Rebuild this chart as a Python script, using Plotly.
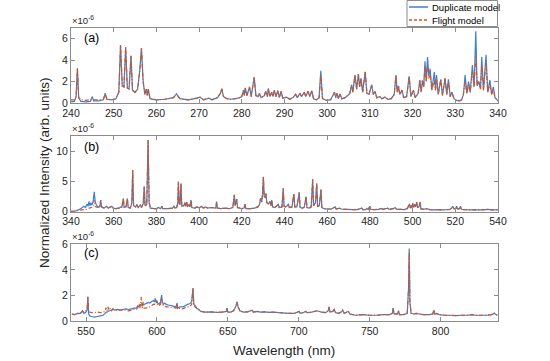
import plotly.graph_objects as go

# ---------------- Panel (a): 240-340 nm (values in 1e-6) ----------------
wl_a = [240.0, 240.8, 241.2, 241.5, 241.8, 242.3, 243.5, 244.5, 245.0, 245.3, 246.5, 247.6, 248.0, 248.4,
        249.5, 250.5, 251.2, 251.6, 252.0, 252.4, 252.8, 253.2, 253.6, 254.05, 254.4, 255.0, 255.6, 256.1,
        256.5, 256.9, 257.3, 257.6, 257.85, 258.1, 258.5, 260.0, 262.0, 264.0, 264.7, 265.5, 267.5, 269.5,
        270.2, 271.0, 272.3, 273.0, 274.3, 275.0, 275.3, 275.7, 276.5, 277.5, 278.5, 279.5, 280.0, 280.4,
        280.6, 280.8, 281.2, 281.8, 282.2, 282.9, 283.3, 283.8, 284.1, 284.5, 285.3, 285.6, 286.0, 286.2,
        286.6, 287.0, 287.3, 287.6, 288.0, 288.4, 288.8, 289.2, 289.6, 290.5, 291.2, 292.0, 292.6, 293.0,
        293.6, 294.0, 294.6, 295.0, 295.5, 295.9, 296.4, 296.8, 297.5, 298.1, 298.5, 298.9, 299.8, 300.8,
        301.7, 302.0, 302.3, 302.6, 303.0, 303.4, 304.2, 304.8, 305.3, 305.7, 306.0, 306.5, 306.9, 307.3,
        307.6, 307.9, 308.3, 308.9, 309.3, 309.8, 310.4, 310.8, 311.2, 311.6, 312.3, 312.8, 313.5, 314.2,
        315.0, 315.7, 316.1, 316.4, 316.7, 317.0, 317.5, 317.9, 318.6, 319.2, 319.6, 320.2, 320.6, 321.3,
        321.7, 322.0, 322.3, 322.6, 322.9, 323.2, 323.5, 323.8, 324.1, 324.5, 325.1, 325.35, 325.6, 326.0,
        326.6, 327.0, 327.6, 328.0, 328.4, 328.8, 329.2, 329.7, 330.3, 331.0, 331.5, 331.9, 332.3, 332.7,
        333.1, 333.5, 334.0, 334.4, 334.8, 335.1, 335.5, 335.9, 336.2, 336.6, 337.2, 337.6, 338.1, 338.5,
        338.9, 339.3, 340.0]
dup_a = [0.10, 0.15, 0.6, 3.25, 0.5, 0.15, 0.10, 0.15, 0.6, 0.2, 0.2, 0.3, 0.9, 0.35,
         0.3, 0.4, 1.0, 5.4, 1.6, 1.5, 5.2, 1.4, 1.3, 4.4, 1.2, 1.0, 1.3, 3.0,
         5.1, 2.0, 0.8, 1.3, 0.7, 1.3, 0.4, 0.3, 0.35, 0.5, 0.85, 0.4, 0.3, 0.45,
         0.55, 0.3, 0.45, 0.3, 0.5, 0.9, 1.35, 0.6, 0.4, 0.35, 0.4, 0.5, 0.6, 1.2,
         0.7, 1.4, 0.7, 1.5, 0.6, 2.4, 0.7, 0.6, 0.9, 0.5, 0.7, 1.1, 0.6, 1.35,
         0.6, 1.0, 0.6, 1.2, 0.6, 1.15, 0.5, 1.1, 0.45, 0.55, 0.35, 0.5, 0.8, 0.5,
         0.9, 0.6, 1.0, 0.6, 1.1, 0.6, 1.15, 0.4, 0.3, 0.5, 3.0, 0.4, 0.25, 0.3,
         1.0, 0.5, 0.9, 0.4, 0.85, 0.4, 0.5, 0.7, 0.9, 1.7, 1.0, 2.6, 1.3, 2.7,
         1.5, 2.3, 1.0, 2.9, 0.9, 0.8, 1.7, 0.8, 1.1, 0.5, 0.6, 0.4, 0.55, 0.35,
         0.4, 0.8, 2.6, 1.0, 1.6, 0.8, 1.2, 0.5, 0.6, 2.5, 0.6, 1.2, 0.5, 0.9,
         2.15, 1.0, 2.1, 1.5, 3.9, 2.0, 4.3, 2.5, 3.2, 1.2, 2.9, 1.2, 2.6, 0.8,
         2.2, 0.7, 2.3, 0.8, 2.2, 0.6, 1.0, 0.4, 0.25, 0.2, 0.3, 0.8, 2.6, 0.9,
         2.0, 1.0, 3.55, 1.5, 6.7, 1.6, 2.0, 1.3, 4.3, 1.2, 4.5, 1.0, 2.15, 0.8,
         1.5, 0.5, 0.2]
flt_a = [0.30, 0.30, 0.6, 3.25, 0.5, 0.3, 0.25, 0.3, 0.3, 0.3, 0.3, 0.35, 0.9, 0.35,
         0.3, 0.4, 1.0, 5.4, 1.6, 1.5, 5.2, 1.4, 1.3, 4.4, 1.2, 1.0, 1.3, 3.0,
         5.1, 2.0, 0.8, 1.3, 0.7, 1.3, 0.4, 0.3, 0.35, 0.5, 0.85, 0.4, 0.3, 0.45,
         0.55, 0.3, 0.45, 0.3, 0.5, 0.9, 1.35, 0.6, 0.4, 0.35, 0.4, 0.5, 0.6, 1.2,
         0.7, 1.4, 0.7, 1.5, 0.6, 2.4, 0.7, 0.6, 0.9, 0.5, 0.7, 1.1, 0.6, 1.35,
         0.6, 1.0, 0.6, 1.2, 0.6, 1.15, 0.5, 1.1, 0.45, 0.55, 0.35, 0.5, 0.8, 0.5,
         0.9, 0.6, 1.0, 0.6, 1.1, 0.6, 1.15, 0.4, 0.3, 0.5, 2.6, 0.4, 0.25, 0.3,
         1.0, 0.5, 0.9, 0.4, 0.85, 0.4, 0.5, 0.7, 0.9, 1.7, 1.0, 2.6, 1.3, 2.7,
         1.5, 2.3, 1.0, 2.9, 0.9, 0.8, 1.7, 0.8, 1.1, 0.5, 0.6, 0.4, 0.55, 0.35,
         0.4, 0.8, 2.6, 1.0, 1.6, 0.8, 1.2, 0.5, 0.6, 2.5, 0.6, 1.2, 0.5, 0.9,
         2.15, 1.0, 2.1, 1.5, 3.4, 2.0, 3.5, 2.3, 2.8, 1.2, 2.2, 1.2, 2.2, 0.8,
         2.2, 0.7, 2.3, 0.8, 2.0, 0.6, 1.0, 0.4, 0.25, 0.2, 0.3, 0.8, 2.0, 0.9,
         1.7, 1.0, 3.0, 1.5, 4.4, 1.6, 2.0, 1.3, 3.5, 1.2, 3.8, 1.0, 1.8, 0.8,
         1.3, 0.5, 0.2]

# ---------------- Panel (b): 340-540 nm ----------------
wl_b = [340.0, 342.0, 343.5, 345.0, 346.0, 346.8, 347.5, 348.0, 348.4, 348.8, 349.3, 349.7, 350.3, 350.9,
        351.3, 351.8, 352.5, 353.5, 353.9, 354.3, 355.5, 356.7, 357.5, 359.1, 359.8, 361.0, 362.5, 363.2,
        363.8, 364.5, 364.9, 365.8, 366.4, 366.8, 367.8, 368.5, 368.9, 369.3, 370.3, 370.8, 371.5, 372.5,
        373.0, 373.8, 374.3, 374.7, 375.5, 376.1, 376.6, 377.2, 379.0, 380.0, 381.0, 382.0, 382.5, 383.0,
        385.0, 387.5, 388.2, 388.6, 389.5, 390.0, 390.3, 390.7, 391.1, 391.5, 391.9, 392.8, 393.3, 393.7,
        394.2, 394.6, 395.3, 395.7, 396.2, 396.6, 398.0, 399.0, 400.0, 401.0, 402.0, 403.0, 404.0, 405.5,
        407.8, 408.2, 408.6, 410.0, 412.0, 414.0, 415.8, 416.5, 416.9, 417.6, 418.0, 420.0, 421.1, 421.5,
        421.9, 424.0, 426.0, 427.5, 428.3, 428.8, 429.3, 429.7, 430.1, 430.5, 431.0, 431.3, 431.7, 432.5,
        433.2, 433.6, 434.0, 434.4, 435.5, 437.1, 437.5, 438.8, 439.4, 439.8, 440.5, 441.3, 441.8, 442.3,
        443.5, 444.4, 444.8, 445.8, 446.9, 447.3, 448.5, 449.3, 450.1, 450.5, 451.5, 452.5, 453.2, 453.6,
        454.5, 455.1, 455.5, 456.3, 457.1, 457.5, 458.5, 460.0, 462.0, 463.7, 464.2, 465.8, 466.5, 469.0,
        472.0, 474.0, 476.2, 476.7, 478.0, 478.6, 479.2, 480.0, 480.4, 482.0, 484.0, 485.3, 486.0, 487.5,
        488.3, 489.0, 491.0, 491.8, 492.5, 494.5, 496.0, 497.5, 498.5, 498.9, 499.3, 499.7, 500.1, 500.5,
        501.0, 501.4, 501.9, 502.3, 503.0, 503.5, 503.9, 505.0, 506.5, 508.0, 510.0, 512.0, 514.0, 516.0,
        517.5, 518.3, 518.8, 519.3, 520.2, 520.6, 521.0, 522.0, 522.5, 522.9, 524.0, 527.0, 530.0, 532.0,
        534.0, 535.5, 537.0, 540.0]
dup_b = [0.05, 0.1, 0.3, 0.6, 0.9, 0.7, 1.3, 0.9, 1.7, 1.0, 1.5, 1.1, 1.6, 3.3,
         1.8, 1.2, 0.8, 0.8, 1.95, 0.8, 0.6, 0.9, 0.6, 0.9, 0.6, 0.5, 0.6, 0.8,
         0.7, 2.2, 0.7, 0.8, 2.2, 0.7, 0.6, 1.5, 6.95, 1.0, 0.8, 1.2, 0.7, 1.1,
         0.7, 1.3, 4.2, 1.0, 1.2, 11.95, 1.5, 0.6, 0.5, 0.5, 0.7, 0.5, 0.9, 0.5,
         0.5, 0.6, 0.9, 0.6, 0.7, 1.5, 5.0, 1.2, 1.3, 4.7, 0.9, 1.0, 1.5, 0.9,
         1.6, 0.8, 1.2, 0.8, 1.95, 0.7, 0.6, 0.8, 0.6, 0.9, 0.6, 0.8, 0.6, 0.7,
         0.6, 1.65, 0.6, 0.5, 0.6, 0.5, 0.7, 2.8, 1.0, 2.1, 0.7, 0.5, 0.6, 1.25,
         0.5, 0.5, 0.6, 0.8, 1.2, 2.2, 1.6, 2.8, 5.8, 2.5, 2.4, 3.0, 1.5, 1.3,
         1.7, 1.0, 1.95, 0.8, 0.7, 1.2, 0.7, 0.8, 3.9, 0.9, 0.8, 1.0, 1.2, 0.7,
         0.8, 2.95, 0.8, 0.8, 3.2, 0.7, 0.6, 0.8, 2.5, 0.7, 0.6, 0.8, 5.4, 1.0,
         1.5, 4.7, 0.9, 1.0, 3.7, 0.7, 0.5, 0.45, 0.45, 0.8, 0.45, 0.6, 0.45, 0.4,
         0.35, 0.35, 0.6, 0.35, 0.35, 0.55, 0.35, 0.9, 0.4, 0.35, 0.4, 0.55, 0.4, 0.5,
         0.6, 0.4, 0.5, 0.7, 0.4, 0.4, 0.35, 0.5, 1.3, 0.6, 1.1, 0.6, 1.4, 0.7,
         1.2, 0.8, 1.6, 0.7, 0.8, 1.6, 0.5, 0.4, 0.5, 0.35, 0.3, 0.35, 0.3, 0.35,
         0.4, 0.6, 0.9, 0.5, 0.5, 0.9, 0.45, 0.5, 0.9, 0.4, 0.35, 0.3, 0.3, 0.3,
         0.35, 0.4, 0.3, 0.3]
flt_b = [0.05, 0.1, 0.2, 0.3, 0.35, 0.35, 0.4, 0.5, 0.6, 0.6, 0.7, 0.7, 0.8, 1.95,
         0.9, 0.8, 0.7, 0.8, 1.95, 0.8, 0.6, 0.9, 0.6, 0.9, 0.6, 0.5, 0.6, 0.8,
         0.7, 2.2, 0.7, 0.8, 2.2, 0.7, 0.6, 1.5, 6.95, 1.0, 0.8, 1.2, 0.7, 1.1,
         0.7, 1.3, 4.2, 1.0, 1.2, 11.95, 1.5, 0.6, 0.5, 0.5, 0.7, 0.5, 0.9, 0.5,
         0.5, 0.6, 0.9, 0.6, 0.7, 1.5, 5.0, 1.2, 1.3, 4.7, 0.9, 1.0, 1.5, 0.9,
         1.6, 0.8, 1.2, 0.8, 1.95, 0.7, 0.6, 0.8, 0.6, 0.9, 0.6, 0.8, 0.6, 0.7,
         0.6, 1.65, 0.6, 0.5, 0.6, 0.5, 0.7, 2.8, 1.0, 2.1, 0.7, 0.5, 0.6, 1.25,
         0.5, 0.5, 0.6, 0.8, 1.2, 2.2, 1.6, 2.8, 5.8, 2.5, 2.4, 3.0, 1.5, 1.3,
         1.7, 1.0, 1.95, 0.8, 0.7, 1.2, 0.7, 0.8, 3.9, 0.9, 0.8, 1.0, 1.2, 0.7,
         0.8, 2.95, 0.8, 0.8, 3.2, 0.7, 0.6, 0.8, 2.5, 0.7, 0.6, 0.8, 5.4, 1.0,
         1.5, 4.7, 0.9, 1.0, 3.7, 0.7, 0.5, 0.45, 0.45, 0.8, 0.45, 0.6, 0.45, 0.4,
         0.35, 0.35, 0.6, 0.35, 0.35, 0.55, 0.35, 0.9, 0.4, 0.35, 0.4, 0.55, 0.4, 0.5,
         0.6, 0.4, 0.5, 0.7, 0.4, 0.4, 0.35, 0.5, 1.3, 0.6, 1.1, 0.6, 1.4, 0.7,
         1.2, 0.8, 1.6, 0.7, 0.8, 1.6, 0.5, 0.4, 0.5, 0.35, 0.3, 0.35, 0.3, 0.35,
         0.4, 0.6, 0.9, 0.5, 0.5, 0.9, 0.45, 0.5, 0.9, 0.4, 0.35, 0.3, 0.3, 0.3,
         0.35, 0.4, 0.3, 0.3]

# ---------------- Panel (c): 540-840 nm ----------------
wl_c = [540.0, 542.0, 544.0, 546.0, 547.5, 548.5, 550.0, 550.8, 551.3, 551.8, 552.5, 554.0, 556.0, 558.0,
        560.0, 562.0, 563.5, 564.2, 564.8, 565.5, 566.2, 567.0, 568.0, 569.0, 570.0, 572.0, 574.0, 576.0,
        578.0, 580.0, 582.0, 584.0, 585.5, 586.5, 587.3, 588.0, 589.0, 589.6, 590.3, 591.0, 592.0, 593.0,
        594.0, 595.0, 596.0, 597.5, 598.3, 598.8, 599.5, 600.0, 600.5, 601.5, 602.5, 603.3, 603.8, 604.5,
        605.5, 606.5, 608.0, 610.0, 612.0, 613.5, 614.2, 614.6, 616.0, 618.0, 620.0, 621.5, 623.0, 624.5,
        625.4, 626.0, 627.0, 628.0, 629.4, 631.0, 634.0, 638.0, 642.0, 646.0, 649.0, 649.4, 649.9, 652.0,
        654.0, 655.0, 655.8, 656.5, 657.2, 658.5, 661.0, 664.0, 667.1, 668.0, 671.0, 673.0, 676.0, 679.0,
        682.0, 686.0, 690.0, 694.0, 697.0, 700.2, 701.0, 703.0, 704.9, 706.0, 709.0, 713.0, 716.0, 719.0,
        720.8, 721.4, 722.0, 724.0, 725.0, 726.0, 728.0, 730.0, 731.0, 732.0, 734.0, 735.0, 736.0, 740.0,
        745.0, 750.0, 755.0, 760.0, 764.0, 766.0, 766.6, 767.2, 769.5, 770.4, 771.0, 774.0, 776.5, 777.4,
        777.9, 778.4, 779.2, 781.0, 783.0, 785.0, 788.0, 792.0, 794.5, 795.3, 795.9, 797.0, 799.0, 803.0,
        807.0, 811.0, 815.0, 819.0, 822.0, 825.0, 829.0, 833.0, 836.0, 838.0, 839.0, 840.0]
dup_c = [0.55, 0.5, 0.6, 0.6, 0.8, 0.6, 0.7, 0.9, 1.9, 0.6, 0.4, 0.35, 0.3, 0.35,
         0.4, 0.45, 0.6, 0.7, 0.7, 0.75, 0.8, 0.8, 0.85, 0.95, 0.85, 0.9, 0.85, 0.9,
         0.95, 0.9, 0.95, 1.0, 1.0, 1.2, 1.1, 1.3, 1.25, 1.2, 1.3, 1.3, 1.35, 1.4,
         1.45, 1.4, 1.5, 1.6, 1.5, 1.77, 1.5, 1.6, 1.4, 1.3, 1.5, 2.03, 1.5, 1.3,
         1.4, 1.3, 1.25, 1.2, 1.15, 1.1, 1.4, 1.0, 1.1, 1.1, 1.2, 1.3, 1.35, 1.5,
         2.55, 1.3, 1.2, 1.0, 0.9, 0.75, 0.7, 0.72, 0.68, 0.7, 0.75, 1.0, 0.7, 0.7,
         0.8, 1.0, 1.2, 1.5, 1.1, 0.8, 0.7, 0.72, 0.85, 0.7, 0.75, 0.7, 0.72, 0.68,
         0.7, 0.65, 0.62, 0.6, 0.6, 0.75, 0.6, 0.65, 0.75, 0.65, 0.7, 0.8, 0.7, 0.65,
         0.8, 1.1, 0.7, 0.75, 0.9, 0.65, 0.6, 0.7, 0.85, 0.6, 0.7, 0.75, 0.55, 0.45,
         0.5, 0.45, 0.45, 0.5, 0.5, 0.6, 1.0, 0.55, 0.55, 0.8, 0.5, 0.5, 0.6, 2.5,
         5.68, 1.5, 0.6, 0.55, 0.6, 0.55, 0.5, 0.5, 0.55, 0.85, 0.55, 0.6, 0.5, 0.45,
         0.45, 0.42, 0.45, 0.45, 0.5, 0.45, 0.45, 0.45, 0.5, 0.6, 0.5, 0.45]
flt_c = [0.55, 0.5, 0.55, 0.6, 0.75, 0.7, 0.8, 1.0, 1.9, 0.8, 0.7, 0.65, 0.65, 0.7,
         0.65, 0.7, 0.75, 1.05, 0.8, 1.1, 0.85, 1.0, 0.8, 0.95, 0.85, 0.8, 0.85, 0.85,
         0.85, 0.8, 0.85, 0.9, 0.9, 1.1, 1.3, 1.0, 1.9, 1.0, 1.5, 1.0, 1.0, 1.05,
         1.1, 1.1, 1.2, 1.3, 1.3, 1.6, 1.4, 1.55, 1.2, 1.2, 1.3, 1.8, 1.4, 1.2,
         1.2, 1.1, 1.1, 1.05, 1.05, 1.0, 1.4, 0.95, 1.0, 0.95, 1.05, 1.1, 1.1, 1.3,
         2.55, 1.2, 1.1, 1.0, 0.9, 0.75, 0.7, 0.7, 0.68, 0.7, 0.75, 1.0, 0.7, 0.7,
         0.8, 1.0, 1.2, 1.5, 1.1, 0.8, 0.7, 0.72, 0.85, 0.7, 0.75, 0.7, 0.72, 0.68,
         0.7, 0.65, 0.62, 0.6, 0.6, 0.75, 0.6, 0.65, 0.75, 0.65, 0.7, 0.8, 0.7, 0.65,
         0.8, 1.1, 0.7, 0.75, 0.9, 0.65, 0.6, 0.7, 0.85, 0.6, 0.7, 0.75, 0.55, 0.45,
         0.5, 0.45, 0.45, 0.5, 0.5, 0.6, 1.0, 0.55, 0.55, 0.8, 0.5, 0.5, 0.6, 2.5,
         5.4, 1.5, 0.6, 0.55, 0.6, 0.55, 0.5, 0.5, 0.55, 0.85, 0.55, 0.6, 0.5, 0.45,
         0.45, 0.42, 0.45, 0.45, 0.5, 0.45, 0.45, 0.45, 0.5, 0.6, 0.5, 0.45]

series_names = ["Duplicate model", "Flight model"]
panel_labels = ["(a)", "(b)", "(c)"]
x_ranges = [[240, 340], [340, 540], [539.4, 840.5]]
x_ticks = [list(range(240, 341, 10)), list(range(340, 541, 20)), list(range(550, 801, 50))]
y_ranges = [[0, 7], [0, 12.65], [0, 6]]
y_ticks = [[0, 2, 4, 6], [0, 5, 10], [0, 2, 4, 6]]

W, H = 550, 361
def px_x(p): return p / W
def px_y(p): return 1 - p / H

x_dom = [px_x(71), px_x(498)]
y_doms = [[px_y(103), px_y(28)], [px_y(211.7), px_y(135.7)], [px_y(321), px_y(244.3)]]

BLUE = "#3d7fd1"
ORANGE = "#d95319"
AX = "#8c8c8c"
TXT = "#262626"
FONT = "Liberation Sans, Arial, sans-serif"
DASH = "4px,2px,1px,2px"

fig = go.Figure()
data = [(wl_a, dup_a, flt_a), (wl_b, dup_b, flt_b), (wl_c, dup_c, flt_c)]
for i, (wl, d, f) in enumerate(data):
    xa = "x" if i == 0 else f"x{i+1}"
    ya = "y" if i == 0 else f"y{i+1}"
    fig.add_trace(go.Scatter(x=wl, y=d, mode="lines", name=series_names[0],
                             line=dict(color=BLUE, width=1.2, simplify=False), xaxis=xa, yaxis=ya,
                             showlegend=False, hoverinfo="skip"))
    fig.add_trace(go.Scatter(x=wl, y=f, mode="lines", name=series_names[1],
                             line=dict(color=ORANGE, width=1.2, dash=DASH, simplify=False),
                             xaxis=xa, yaxis=ya, showlegend=False, hoverinfo="skip"))

layout = dict(
    width=W, height=H, margin=dict(l=0, r=0, t=0, b=0, autoexpand=False),
    paper_bgcolor="white", plot_bgcolor="white",
    font=dict(family=FONT, size=10.5, color=TXT),
    showlegend=False,
)
annotations = []
for i in range(3):
    xk = "xaxis" if i == 0 else f"xaxis{i+1}"
    yk = "yaxis" if i == 0 else f"yaxis{i+1}"
    ya = "y" if i == 0 else f"y{i+1}"
    layout[xk] = dict(domain=x_dom, range=x_ranges[i], tickvals=x_ticks[i],
                      ticks="inside", ticklen=4, tickcolor=AX, showline=True, linecolor=AX,
                      linewidth=1, mirror="ticks", showgrid=False, zeroline=False, automargin=False,
                      anchor=ya, tickfont=dict(size=10.5, color=TXT))
    layout[yk] = dict(domain=y_doms[i], range=y_ranges[i], tickvals=y_ticks[i],
                      ticks="inside", ticklen=4, tickcolor=AX, showline=True, linecolor=AX,
                      linewidth=1, mirror="ticks", showgrid=False, zeroline=False, automargin=False,
                      anchor="x" if i == 0 else f"x{i+1}", tickfont=dict(size=10.5, color=TXT))
    annotations.append(dict(text="×10<sup>-6</sup>", xref="paper", yref="paper",
                            x=px_x(70), y=y_doms[i][1], xanchor="left", yanchor="bottom",
                            showarrow=False, font=dict(size=9.5, color=TXT)))
label_y = [38, 146.7, 253.3]
for i in range(3):
    annotations.append(dict(text=panel_labels[i], xref="paper", yref="paper",
                            x=px_x(82), y=px_y(label_y[i]), xanchor="left", yanchor="middle",
                            showarrow=False, font=dict(size=12.5, color="black")))
annotations.append(dict(text="Normalized Intensity (arb. units)", xref="paper", yref="paper",
                        x=px_x(44), y=px_y(173), textangle=-90, showarrow=False,
                        xanchor="center", yanchor="middle", font=dict(size=13.5, color=TXT)))
annotations.append(dict(text="Wavelength (nm)", xref="paper", yref="paper",
                        x=px_x(284.5), y=px_y(350), showarrow=False,
                        xanchor="center", yanchor="middle", font=dict(size=13.5, color=TXT)))

# custom legend (box, line samples, labels)
shapes = [
    dict(type="rect", xref="paper", yref="paper", x0=px_x(407), x1=px_x(497.5), y0=px_y(26.5), y1=px_y(0.5),
         line=dict(color=AX, width=1), fillcolor="white", layer="above"),
    dict(type="line", xref="paper", yref="paper", x0=px_x(409), x1=px_x(428), y0=px_y(7), y1=px_y(7),
         line=dict(color=BLUE, width=1.5), layer="above"),
    dict(type="line", xref="paper", yref="paper", x0=px_x(409), x1=px_x(428), y0=px_y(20), y1=px_y(20),
         line=dict(color=ORANGE, width=1.5, dash="3px,2px"), layer="above"),
]
annotations.append(dict(text=series_names[0], xref="paper", yref="paper", x=px_x(430), y=px_y(7),
                        xanchor="left", yanchor="middle", showarrow=False,
                        font=dict(size=9.5, color="black")))
annotations.append(dict(text=series_names[1], xref="paper", yref="paper", x=px_x(430), y=px_y(20),
                        xanchor="left", yanchor="middle", showarrow=False,
                        font=dict(size=9.5, color="black")))
layout["annotations"] = annotations
layout["shapes"] = shapes
fig.update_layout(**layout)
fig.write_html("out.html", config={"displayModeBar": False, "staticPlot": True},
               post_script="document.body.style.margin='0px';document.body.style.overflow='hidden';")
